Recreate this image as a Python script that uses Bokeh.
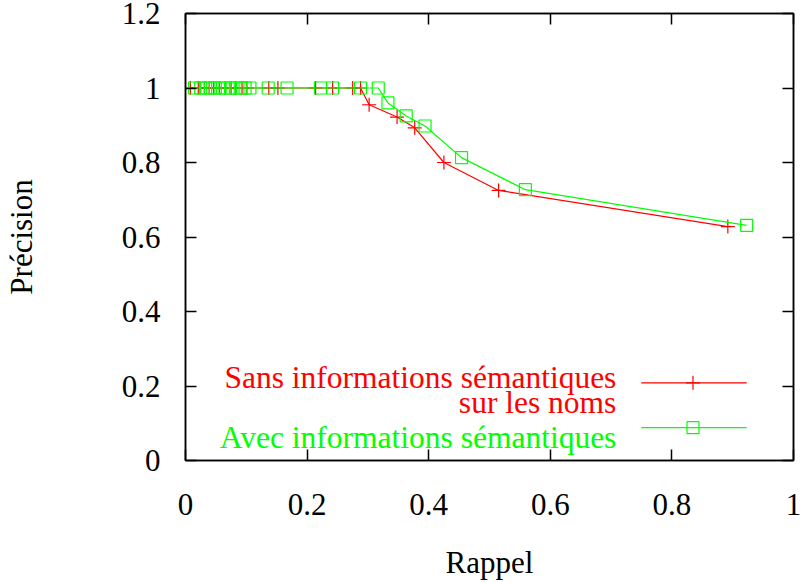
from bokeh.plotting import figure
from bokeh.models import (LinearAxis, FixedTicker, CustomJSTickFormatter, Range1d,
                          Label, ColumnDataSource)
from bokeh.embed import file_html
from bokeh.resources import INLINE

# ---- data ----
recall_sans = [0.008, 0.021, 0.031, 0.039, 0.046, 0.056, 0.065, 0.075, 0.083, 0.093,
               0.101, 0.137, 0.152, 0.214, 0.242, 0.275, 0.288,
               0.302, 0.348, 0.377, 0.425, 0.515, 0.892]
prec_sans = [1, 1, 1, 1, 1, 1, 1, 1, 1, 1,
             1, 1, 1, 1, 1, 1, 1,
             0.955, 0.922, 0.893, 0.800, 0.725, 0.628]

recall_avec = [0.015, 0.025, 0.033, 0.041, 0.049, 0.057, 0.065, 0.074, 0.082, 0.090,
               0.098, 0.106, 0.136, 0.167, 0.222, 0.242, 0.288, 0.317,
               0.333, 0.363, 0.394, 0.454, 0.559, 0.923]
prec_avec = [1, 1, 1, 1, 1, 1, 1, 1, 1, 1,
             1, 1, 1, 1, 1, 1, 1, 1,
             0.960, 0.925, 0.898, 0.813, 0.727, 0.631]

x_ticks = [0, 0.2, 0.4, 0.6, 0.8, 1.0]
y_ticks = [0, 0.2, 0.4, 0.6, 0.8, 1.0, 1.2]

label_sans_1 = "Sans informations sémantiques"
label_sans_2 = "sur les noms"
label_avec = "Avec informations sémantiques"
x_title = "Rappel"
y_title = "Précision"

RED = "#ff0000"
GREEN = "#00ff00"
FONT = "Liberation Serif"
FS = "31px"
FS_KEY = "31.5px"

# frame geometry (pixels)
L, R, T, B = 182, 10, 13, 120
W, H = 803, 582
FW, FH = W - L - R, H - T - B

def dx(px):
    return (px - L) / FW

def dy(py):
    return (T + FH - py) / FH * 1.2

p = figure(width=W, height=H, x_range=Range1d(0, 1), y_range=Range1d(0, 1.2),
           output_backend="svg", toolbar_location=None,
           min_border_left=L, min_border_right=R, min_border_top=T, min_border_bottom=B)
p.grid.visible = False
p.outline_line_color = "black"
p.outline_line_width = 1.5
p.background_fill_color = "white"
p.border_fill_color = "white"

fmt = CustomJSTickFormatter(code="return String(Math.round(tick*10)/10)")
blank = CustomJSTickFormatter(code="return ''")

for ax, ticks in ((p.xaxis[0], x_ticks), (p.yaxis[0], y_ticks)):
    ax.ticker = FixedTicker(ticks=ticks)
    ax.formatter = fmt
    ax.major_tick_in = 11
    ax.major_tick_out = 0
    ax.minor_tick_in = 0
    ax.minor_tick_out = 0
    ax.major_tick_line_width = 1.5
    ax.axis_line_width = 1.5
    ax.major_label_text_font = FONT
    ax.major_label_text_font_size = FS
    ax.major_label_text_color = "black"
    ax.axis_label_text_font = FONT
    ax.axis_label_text_font_size = FS
    ax.axis_label_text_font_style = "normal"
    ax.axis_label_text_color = "black"

p.xaxis[0].axis_label = x_title
p.yaxis[0].axis_label = y_title
p.xaxis[0].major_label_standoff = 33
p.xaxis[0].axis_label_standoff = 27
p.yaxis[0].major_label_standoff = 25
p.yaxis[0].axis_label_standoff = 80

for loc, ticks in (("above", x_ticks), ("right", y_ticks)):
    ax = LinearAxis(ticker=FixedTicker(ticks=ticks), formatter=blank,
                    major_tick_in=11, major_tick_out=0,
                    minor_tick_in=0, minor_tick_out=0, major_tick_line_width=1.5,
                    axis_line_width=1.5, major_label_text_font_size="1px",
                    major_label_standoff=0)
    p.add_layout(ax, loc)

src_sans = ColumnDataSource(dict(x=recall_sans, y=prec_sans))
src_avec = ColumnDataSource(dict(x=recall_avec, y=prec_avec))

p.line("x", "y", source=src_sans, line_color=RED, line_width=1.2)
p.scatter("x", "y", source=src_sans, marker="cross", size=14, line_color=RED, line_width=1.2)
p.line("x", "y", source=src_avec, line_color=GREEN, line_width=1.2)
p.scatter("x", "y", source=src_avec, marker="square", size=12, fill_color=None,
          line_color=GREEN, line_width=1.2)

# ---- key ----
key_x0, key_x1, key_xm = dx(640), dx(746), dx(692)
p.line([key_x0, key_x1], [dy(384), dy(384)], line_color=RED, line_width=1.2)
p.scatter([key_xm], [dy(384)], marker="cross", size=14, line_color=RED, line_width=1.2)
p.line([key_x0, key_x1], [dy(429), dy(429)], line_color=GREEN, line_width=1.2)
p.scatter([key_xm], [dy(429)], marker="square", size=12, fill_color=None,
          line_color=GREEN, line_width=1.2)

for txt, py, col in ((label_sans_1, 379, RED), (label_sans_2, 404, RED), (label_avec, 439, GREEN)):
    p.add_layout(Label(x=dx(615), y=dy(py), text=txt, text_align="right",
                       text_baseline="alphabetic", text_font=FONT, text_font_size=FS_KEY,
                       text_color=col))

open("out.html", "w").write(file_html(p, INLINE))
